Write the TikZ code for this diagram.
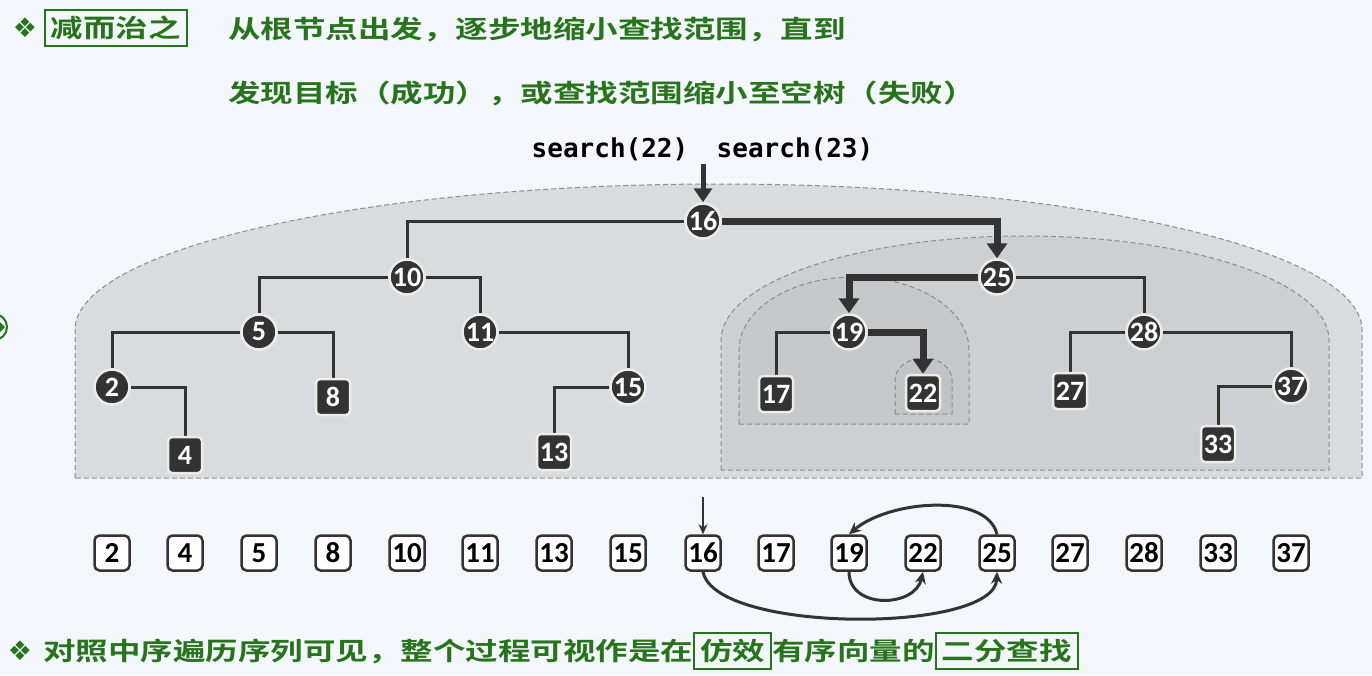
\documentclass[tikz,border=0pt]{standalone}
\usepackage{fontspec}
\usepackage{graphicx}
\usetikzlibrary{arrows.meta,positioning}
\newfontfamily\cjk{Noto Sans CJK SC}[BoldFont={Noto Sans CJK SC Bold}]
\newfontfamily\numfont{Carlito}
\newfontfamily\codefont{DejaVu Sans Mono}
\newfontfamily\symfont{DejaVu Sans}
\definecolor{pagebg}{RGB}{243,247,251}
\definecolor{titlegreen}{RGB}{40,116,28}
\definecolor{nodedark}{RGB}{51,51,51}
\definecolor{ringgray}{RGB}{236,236,236}
\definecolor{zone1}{RGB}{217,219,222}
\definecolor{zone2}{RGB}{206,207,210}
\definecolor{zone3}{RGB}{199,200,203}
\definecolor{zone4}{RGB}{194,195,198}
\definecolor{dashgray}{RGB}{140,140,140}
\pgfdeclarelayer{zones}
\pgfdeclarelayer{links}
\pgfsetlayers{zones,links,main}
\newcommand{\wide}[1]{\scalebox{1.3}[1]{#1}}

\begin{document}
\begin{tikzpicture}[x=1pt,y=-1pt,
  every node/.style={inner sep=0pt},
  hd/.style={font=\cjk\bfseries\fontsize{25}{25}\selectfont, text=titlegreen, anchor=west},
  hdbox/.style={hd, draw=titlegreen, line width=1.6pt, inner xsep=6pt, inner ysep=6pt},
  bullet/.style={font=\symfont\fontsize{27}{27}\selectfont, text=titlegreen},
  inner/.style={circle, fill=nodedark, draw=ringgray, line width=2.5pt, minimum size=35pt,
    text=white, font=\numfont\bfseries\fontsize{28}{28}\selectfont},
  leaf/.style={rectangle, rounded corners=4pt, fill=nodedark, draw=ringgray, line width=2.5pt,
    minimum width=34pt, minimum height=36pt, text=white, font=\numfont\bfseries\fontsize{28}{28}\selectfont},
  cell/.style={rectangle, rounded corners=5pt, fill=white, draw=nodedark, line width=2.5pt,
    minimum size=35pt, text=black, font=\numfont\bfseries\fontsize{29}{29}\selectfont},
  link/.style={line width=3pt, draw=nodedark},
  hit/.style={line width=7pt, draw=nodedark, -{Triangle[length=15pt,width=20pt]}},
  hop/.style={line width=3pt, draw=nodedark, -{Stealth[length=12pt,width=11pt]}},
  zone/.style={draw=dashgray, line width=1pt, dash pattern=on 5pt off 3pt}]
\useasboundingbox (0,0) rectangle (1372,675);

% search ranges
\begin{pgfonlayer}{zones}
\fill[pagebg] (0,0) rectangle (1372,675);
\filldraw[zone, fill=zone1] (75,478) -- (75,330) .. controls (75,249.4) and (363.1,184) .. (718.5,184)
  .. controls (1073.9,184) and (1362,249.4) .. (1362,330) -- (1362,478) -- cycle;
\filldraw[zone, fill=zone2] (721,470) -- (721,340) .. controls (721,282.6) and (857.1,236) .. (1025,236)
  .. controls (1192.9,236) and (1329,282.6) .. (1329,340) -- (1329,470) -- cycle;
\filldraw[zone, fill=zone3] (739,424) -- (739,350) .. controls (739,309.7) and (790.5,277) .. (854,277)
  .. controls (917.5,277) and (969,309.7) .. (969,350) -- (969,424) -- cycle;
\filldraw[zone, fill=zone4] (895,414) -- (895,380) .. controls (895,367.8) and (907.8,358) .. (923.5,358)
  .. controls (939.2,358) and (952,367.8) .. (952,380) -- (952,414) -- cycle;
\draw[titlegreen, line width=2pt] (-6,327) circle[radius=13pt];
\fill[titlegreen] (-1,321) -- (5,327) -- (-1,333) -- cycle;
\end{pgfonlayer}

% header
\node[bullet] (bul1) at (25,28) {❖};
\node[hdbox] (tag1) at (44,28) {\wide{减而治之}};
\node[hd] (line1) at (228,30) {\wide{从根节点出发，逐步地缩小查找范围，直到}};
\node[hd] (line2) at (228,93) {\wide{发现目标（成功），或查找范围缩小至空树（失败）}};

% tree
\node[inner] (n16) at (703,221) {16};
\node[inner] (n10) at (407,277) {10};
\node[inner] (n25) at (997,277) {25};
\node[inner] (n5) at (259,332) {5};
\node[inner] (n11) at (480,332) {11};
\node[inner] (n19) at (849,332) {19};
\node[inner] (n28) at (1144,332) {28};
\node[inner] (n2) at (112,387) {2};
\node[inner] (n15) at (628,387) {15};
\node[inner] (n37) at (1291,386) {37};
\node[leaf] (n8) at (333,397) {8};
\node[leaf] (n17) at (776,394) {17};
\node[leaf] (n22) at (923,393) {22};
\node[leaf] (n27) at (1070,391) {27};
\node[leaf] (n4) at (185,455) {4};
\node[leaf] (n13) at (554,452) {13};
\node[leaf] (n33) at (1218,444) {33};

\begin{pgfonlayer}{links}
\draw[link] (n16) -| (n10);
\draw[link] (n10) -| (n5);
\draw[link] (n10) -| (n11);
\draw[link] (n5) -| (n2);
\draw[link] (n5) -| (n8);
\draw[link] (n2) -| (n4);
\draw[link] (n11) -| (n15);
\draw[link] (n15) -| (n13);
\draw[link] (n25) -| (n28);
\draw[link] (n19) -| (n17);
\draw[link] (n28) -| (n27);
\draw[link] (n28) -| (n37);
\draw[link] (n37) -| (n33);
\end{pgfonlayer}
\draw[hit] (n16) -| (n25);
\draw[hit] (n25) -| (n19);
\draw[hit] (n19) -| (n22);

% calls
\node[font=\codefont\bfseries\fontsize{26}{26}\selectfont] (s22) at (610,149) {search(22)};
\node[font=\codefont\bfseries\fontsize{26}{26}\selectfont] (s23) at (795,149) {search(23)};
\coordinate (entry) at (703,164);
\draw[line width=5pt, draw=nodedark, -{Triangle[length=14pt,width=18pt]}] (entry) -- (n16);

% in-order sequence
\foreach \v/\x in {2/112,4/185,5/259,8/333,10/407,11/480,13/554,15/628,16/703,
                   17/776,19/849,22/923,25/997,27/1070,28/1144,33/1218,37/1291}
  \node[cell] (r\v) at (\x,553) {\v};
\coordinate (probe) at (703,497);
\draw[line width=2.5pt, draw=nodedark, -{Stealth[length=10pt,width=9pt]}] (probe) -- (r16);
\draw[hop] (r16.south) .. controls +(12,62) and +(-2,62) .. (r25.south);
\draw[hop] (r25.north) .. controls +(-10,-42) and +(40,-34) .. (r19.north);
\draw[hop] (r19.south) .. controls +(0,38) and +(-8,36) .. (r22.south);

% footer
\node[bullet] (bul2) at (20,651) {❖};
\node[hd] (note1) at (43,651) {\wide{对照中序遍历序列可见，整个过程可视作是在}};
\node[hdbox, right=0pt of note1] (tag2) {\wide{仿效}};
\node[hd, right=0pt of tag2] (note2) {\wide{有序向量的}};
\node[hdbox, right=0pt of note2] (tag3) {\wide{二分查找}};
\end{tikzpicture}
\end{document}
